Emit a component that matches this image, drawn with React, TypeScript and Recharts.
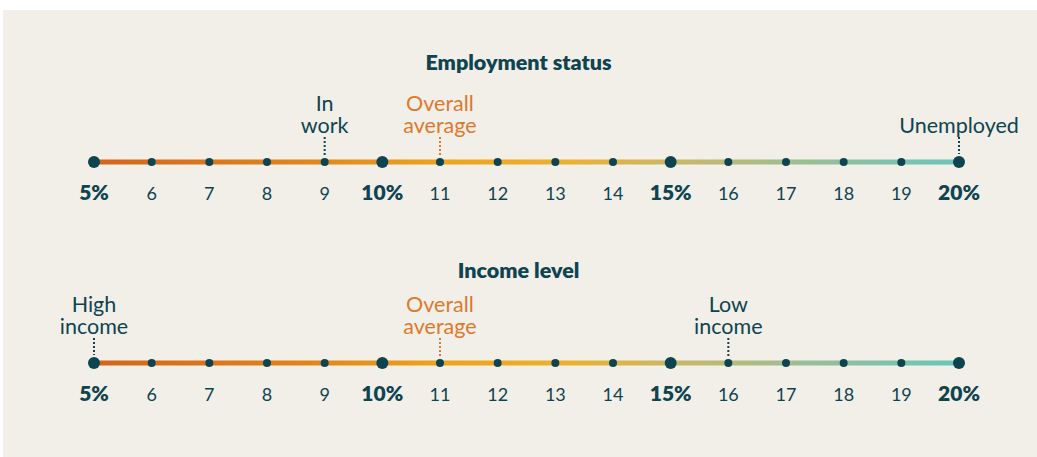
import React from 'react';
import {
    ComposedChart,
    Line,
    Scatter,
    XAxis,
    YAxis,
} from 'recharts';

const scaleTicks = [5, 6, 7, 8, 9, 10, 11, 12, 13, 14, 15, 16, 17, 18, 19, 20];
const majorTicks = [5, 10, 15, 20];

type Note = { value: number; lines: string[]; average?: boolean };

const employmentNotes: Note[] = [
    { value: 9, lines: ['In', 'work'] },
    { value: 11, lines: ['Overall', 'average'], average: true },
    { value: 20, lines: ['Unemployed'] },
];

const incomeNotes: Note[] = [
    { value: 5, lines: ['High', 'income'] },
    { value: 11, lines: ['Overall', 'average'], average: true },
    { value: 16, lines: ['Low', 'income'] },
];

const INK = '#0e4450';
const ORANGE = '#dc7a2c';
const FONT = 'Lato, "Open Sans", sans-serif';

const W = 1037;
const H = 230;
const LINE_Y = 162;
const margin = { top: 20, right: 78, bottom: H - LINE_Y - 40, left: 94 };

const Tick = ({ x, y, payload }: any) => {
    const major = majorTicks.includes(payload.value);
    return (
        <text
            x={x}
            y={y + 38}
            textAnchor="middle"
            fill={INK}
            fontFamily={FONT}
            fontSize={major ? 21 : 18}
            fontWeight={major ? 800 : 400}
        >
            {major ? `${payload.value}%` : payload.value}
        </text>
    );
};

const Dot = ({ cx, cy, payload }: any) => {
    const major = majorTicks.includes(payload.x);
    return <circle key={payload.x} cx={cx} cy={cy} r={major ? 6 : 4} fill={INK} />;
};

const NoteShape = ({ cx, cy, payload }: any) => {
    const color = payload.average ? ORANGE : INK;
    const major = majorTicks.includes(payload.x);
    const lines: string[] = payload.lines;
    return (
        <g>
            <line
                x1={cx}
                x2={cx}
                y1={cy - 25}
                y2={cy - (major ? 8 : 6)}
                stroke={color}
                strokeWidth={2}
                strokeDasharray="2 2"
            />
            {lines.map((t, i) => (
                <text
                    key={t}
                    x={cx}
                    y={cy - 29 - (lines.length - 1 - i) * 22}
                    textAnchor="middle"
                    fill={color}
                    fontFamily={FONT}
                    fontSize={21.5}
                >
                    {t}
                </text>
            ))}
        </g>
    );
};

const NumberLine = ({ notes, id }: { notes: Note[]; id: string }) => {
    const lineData = scaleTicks.map((x) => ({ x, y: 0 }));
    const noteData = notes.map((n) => ({ x: n.value, y: 0, lines: n.lines, average: n.average }));
    return (
        <ComposedChart width={W} height={H} margin={margin} style={{ overflow: 'visible' }}>
            <defs>
                <linearGradient
                    id={id}
                    gradientUnits="userSpaceOnUse"
                    x1={margin.left}
                    x2={W - margin.right}
                    y1={0}
                    y2={0}
                >
                    <stop offset="0%" stopColor="#d1651d" />
                    <stop offset="25%" stopColor="#df861f" />
                    <stop offset="40%" stopColor="#eba41e" />
                    <stop offset="55%" stopColor="#ecb132" />
                    <stop offset="67%" stopColor="#c9b86a" />
                    <stop offset="85%" stopColor="#93bf9c" />
                    <stop offset="100%" stopColor="#6ac5ba" />
                </linearGradient>
            </defs>
            <XAxis
                dataKey="x"
                type="number"
                domain={[5, 20]}
                ticks={scaleTicks}
                interval={0}
                axisLine={false}
                tickLine={false}
                tickSize={0}
                tickMargin={0}
                height={40}
                tick={<Tick />}
            />
            <YAxis hide type="number" domain={[0, 1]} dataKey="y" />
            <Line
                data={lineData}
                dataKey="y"
                stroke={`url(#${id})`}
                strokeWidth={5}
                dot={<Dot />}
                activeDot={false}
                isAnimationActive={false}
            />
            <Scatter
                data={noteData}
                dataKey="y"
                shape={<NoteShape />}
                isAnimationActive={false}
            />
        </ComposedChart>
    );
};

const titleStyle: React.CSSProperties = {
    position: 'absolute',
    left: 0,
    width: W,
    textAlign: 'center',
    fontFamily: FONT,
    fontWeight: 800,
    fontSize: 21.5,
    color: INK,
    lineHeight: '24px',
};

export default function App() {
    return (
        <div
            style={{
                position: 'absolute',
                top: 0,
                left: 0,
                width: W,
                height: 457,
                background: '#fff',
                overflow: 'hidden',
            }}
        >
            <div
                style={{
                    position: 'absolute',
                    left: 3,
                    top: 10,
                    width: W - 3,
                    height: 447,
                    background: '#f2eee8',
                }}
            />
            <div style={{ ...titleStyle, top: 50 }}>Employment status</div>
            <div style={{ ...titleStyle, top: 258 }}>Income level</div>
            <div style={{ position: 'absolute', top: 0, left: 0 }}>
                <NumberLine notes={employmentNotes} id="gradTop" />
            </div>
            <div style={{ position: 'absolute', top: 201, left: 0 }}>
                <NumberLine notes={incomeNotes} id="gradBottom" />
            </div>
        </div>
    );
}
